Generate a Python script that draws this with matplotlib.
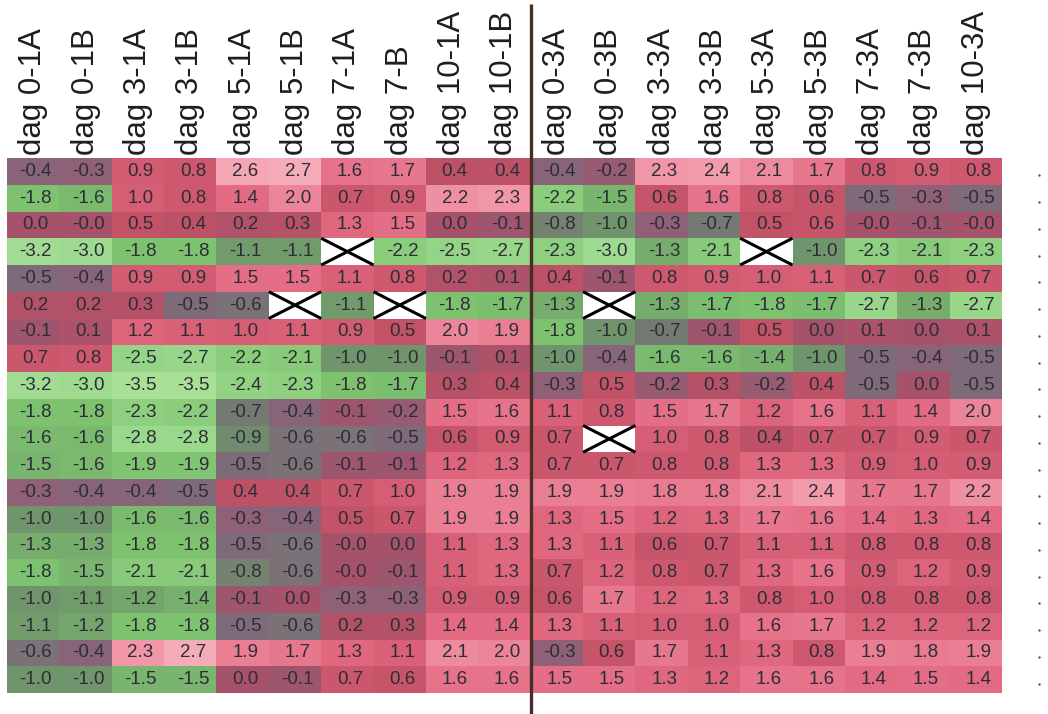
import numpy as np
import matplotlib
matplotlib.use("Agg")
import matplotlib.pyplot as plt
from matplotlib.colors import LinearSegmentedColormap, Normalize

plt.rcParams['font.family'] = ['Liberation Sans', 'DejaVu Sans']

# Column labels for the two sample series
labels_1 = ["dag 0-1A", "dag 0-1B", "dag 3-1A", "dag 3-1B", "dag 5-1A",
            "dag 5-1B", "dag 7-1A", "dag 7-B", "dag 10-1A", "dag 10-1B"]
labels_3 = ["dag 0-3A", "dag 0-3B", "dag 3-3A", "dag 3-3B", "dag 5-3A",
            "dag 5-3B", "dag 7-3A", "dag 7-3B", "dag 10-3A"]

N = None  # no measurement

# log2 ratios, series 1 (one list per gene)
values_1 = [
    [-0.4, -0.3, 0.9, 0.8, 2.6, 2.7, 1.6, 1.7, 0.4, 0.4],
    [-1.8, -1.6, 1.0, 0.8, 1.4, 2.0, 0.7, 0.9, 2.2, 2.3],
    [0.0, -0.0, 0.5, 0.4, 0.2, 0.3, 1.3, 1.5, 0.0, -0.1],
    [-3.2, -3.0, -1.8, -1.8, -1.1, -1.1, N, -2.2, -2.5, -2.7],
    [-0.5, -0.4, 0.9, 0.9, 1.5, 1.5, 1.1, 0.8, 0.2, 0.1],
    [0.2, 0.2, 0.3, -0.5, -0.6, N, -1.1, N, -1.8, -1.7],
    [-0.1, 0.1, 1.2, 1.1, 1.0, 1.1, 0.9, 0.5, 2.0, 1.9],
    [0.7, 0.8, -2.5, -2.7, -2.2, -2.1, -1.0, -1.0, -0.1, 0.1],
    [-3.2, -3.0, -3.5, -3.5, -2.4, -2.3, -1.8, -1.7, 0.3, 0.4],
    [-1.8, -1.8, -2.3, -2.2, -0.7, -0.4, -0.1, -0.2, 1.5, 1.6],
    [-1.6, -1.6, -2.8, -2.8, -0.9, -0.6, -0.6, -0.5, 0.6, 0.9],
    [-1.5, -1.6, -1.9, -1.9, -0.5, -0.6, -0.1, -0.1, 1.2, 1.3],
    [-0.3, -0.4, -0.4, -0.5, 0.4, 0.4, 0.7, 1.0, 1.9, 1.9],
    [-1.0, -1.0, -1.6, -1.6, -0.3, -0.4, 0.5, 0.7, 1.9, 1.9],
    [-1.3, -1.3, -1.8, -1.8, -0.5, -0.6, -0.0, 0.0, 1.1, 1.3],
    [-1.8, -1.5, -2.1, -2.1, -0.8, -0.6, -0.0, -0.1, 1.1, 1.3],
    [-1.0, -1.1, -1.2, -1.4, -0.1, 0.0, -0.3, -0.3, 0.9, 0.9],
    [-1.1, -1.2, -1.8, -1.8, -0.5, -0.6, 0.2, 0.3, 1.4, 1.4],
    [-0.6, -0.4, 2.3, 2.7, 1.9, 1.7, 1.3, 1.1, 2.1, 2.0],
    [-1.0, -1.0, -1.5, -1.5, 0.0, -0.1, 0.7, 0.6, 1.6, 1.6],
]

# log2 ratios, series 3 (one list per gene)
values_3 = [
    [-0.4, -0.2, 2.3, 2.4, 2.1, 1.7, 0.8, 0.9, 0.8],
    [-2.2, -1.5, 0.6, 1.6, 0.8, 0.6, -0.5, -0.3, -0.5],
    [-0.8, -1.0, -0.3, -0.7, 0.5, 0.6, -0.0, -0.1, -0.0],
    [-2.3, -3.0, -1.3, -2.1, N, -1.0, -2.3, -2.1, -2.3],
    [0.4, -0.1, 0.8, 0.9, 1.0, 1.1, 0.7, 0.6, 0.7],
    [-1.3, N, -1.3, -1.7, -1.8, -1.7, -2.7, -1.3, -2.7],
    [-1.8, -1.0, -0.7, -0.1, 0.5, 0.0, 0.1, 0.0, 0.1],
    [-1.0, -0.4, -1.6, -1.6, -1.4, -1.0, -0.5, -0.4, -0.5],
    [-0.3, 0.5, -0.2, 0.3, -0.2, 0.4, -0.5, 0.0, -0.5],
    [1.1, 0.8, 1.5, 1.7, 1.2, 1.6, 1.1, 1.4, 2.0],
    [0.7, N, 1.0, 0.8, 0.4, 0.7, 0.7, 0.9, 0.7],
    [0.7, 0.7, 0.8, 0.8, 1.3, 1.3, 0.9, 1.0, 0.9],
    [1.9, 1.9, 1.8, 1.8, 2.1, 2.4, 1.7, 1.7, 2.2],
    [1.3, 1.5, 1.2, 1.3, 1.7, 1.6, 1.4, 1.3, 1.4],
    [1.3, 1.1, 0.6, 0.7, 1.1, 1.1, 0.8, 0.8, 0.8],
    [0.7, 1.2, 0.8, 0.7, 1.3, 1.6, 0.9, 1.2, 0.9],
    [0.6, 1.7, 1.2, 1.3, 0.8, 1.0, 0.8, 0.8, 0.8],
    [1.3, 1.1, 1.0, 1.0, 1.6, 1.7, 1.2, 1.2, 1.2],
    [-0.3, 0.6, 1.7, 1.1, 1.3, 0.8, 1.9, 1.8, 1.9],
    [1.5, 1.5, 1.3, 1.2, 1.6, 1.6, 1.4, 1.5, 1.4],
]

labels = labels_1 + labels_3
data = np.array([[np.nan if v is None else v for v in r1 + r3]
                 for r1, r3 in zip(values_1, values_3)], dtype=float)
n_rows, n_cols = data.shape

# green (down) -> grey/mauve (no change) -> red -> pink (up)
vmin, vmax = -3.5, 2.7
anchors = [
    (-3.5, (168, 224, 152)),
    (-2.5, (148, 212, 134)),
    (-1.8, (126, 194, 112)),
    (-1.3, (118, 172, 108)),
    (-1.0, (112, 148, 108)),
    (-0.7, (116, 122, 114)),
    (-0.5, (128, 105, 122)),
    (-0.3, (142, 96, 118)),
    (0.0, (166, 82, 106)),
    (0.5, (194, 82, 102)),
    (1.0, (214, 94, 116)),
    (1.5, (228, 110, 134)),
    (2.0, (236, 132, 152)),
    (2.7, (245, 172, 185)),
]
cmap = LinearSegmentedColormap.from_list(
    "expr",
    [((v - vmin) / (vmax - vmin), tuple(c / 255 for c in rgb)) for v, rgb in anchors])
cmap.set_bad("white")
norm = Normalize(vmin=vmin, vmax=vmax)

W, H = 1048, 714
fig = plt.figure(figsize=(W / 100, H / 100), dpi=100)
fig.patch.set_facecolor("white")

x0, x1 = 7, 1002
y0, y1 = 158, 693
ax = fig.add_axes([x0 / W, 1 - y1 / H, (x1 - x0) / W, (y1 - y0) / H])
ax.pcolormesh(np.ma.masked_invalid(data), cmap=cmap, norm=norm)
ax.set_xlim(0, n_cols)
ax.set_ylim(n_rows, 0)
for s in ax.spines.values():
    s.set_visible(False)
ax.set_yticks([])

ax.xaxis.tick_top()
ax.set_xticks(np.arange(n_cols) + 0.5)
ax.set_xticklabels(labels, rotation=90, fontsize=22.5, color="#1e1e1e",
                   ha="center", va="bottom")
ax.tick_params(axis="x", length=0, pad=2)

text_color = "#2d2d37"
for i in range(n_rows):
    for j in range(n_cols):
        v = data[i, j]
        if np.isnan(v):
            ax.plot([j, j + 1], [i, i + 1], color="black", lw=2.2, solid_capstyle="butt")
            ax.plot([j, j + 1], [i + 1, i], color="black", lw=2.2, solid_capstyle="butt")
        else:
            txt = f"{v:.1f}"
            if v == 0 and np.signbit(v):
                txt = "-0.0"
            ax.text(j + 0.55, i + 0.5, txt, ha="center", va="center",
                    fontsize=13.5, color=text_color)

# separator between the two series
ax.plot([len(labels_1), len(labels_1)], [-5.75, n_rows + 0.8], color="#4b2d28",
        lw=2.4, clip_on=False, solid_capstyle="butt")

# row markers on the right
ax.scatter(np.full(n_rows, 19.7), np.arange(n_rows) + 0.65, s=3, color="#555555",
           clip_on=False, linewidths=0)

fig.savefig("out.png", dpi=100, facecolor="white")
